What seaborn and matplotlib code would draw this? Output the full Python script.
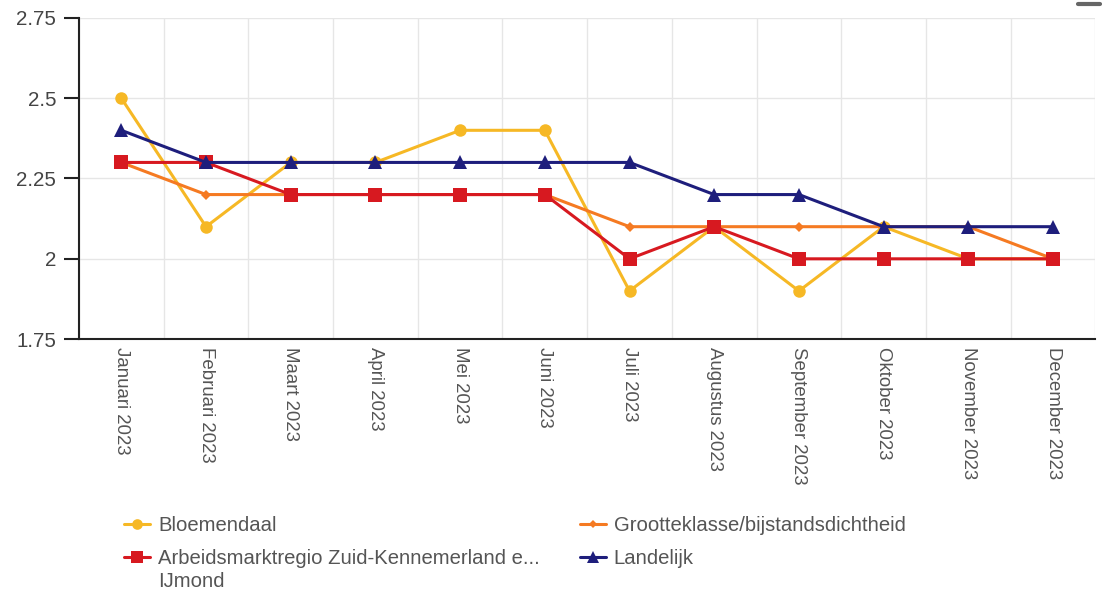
import matplotlib
matplotlib.use("Agg")
import pandas as pd
import numpy as np
import matplotlib.pyplot as plt
from matplotlib.ticker import FixedLocator, FuncFormatter
import seaborn as sns

# ─── Data ────────────────────────────────────────────────────────────────────
maanden = ["Januari 2023", "Februari 2023", "Maart 2023", "April 2023",
           "Mei 2023", "Juni 2023", "Juli 2023", "Augustus 2023",
           "September 2023", "Oktober 2023", "November 2023", "December 2023"]

bloemendaal   = [2.5, 2.1, 2.3, 2.3, 2.4, 2.4, 1.9, 2.1, 1.9, 2.1, 2.0, 2.0]
grootteklasse = [2.3, 2.2, 2.2, 2.2, 2.2, 2.2, 2.1, 2.1, 2.1, 2.1, 2.1, 2.0]
arbeidsmarkt  = [2.3, 2.3, 2.2, 2.2, 2.2, 2.2, 2.0, 2.1, 2.0, 2.0, 2.0, 2.0]
landelijk     = [2.4, 2.3, 2.3, 2.3, 2.3, 2.3, 2.3, 2.2, 2.2, 2.1, 2.1, 2.1]

y_ticks = [1.75, 2.0, 2.25, 2.5, 2.75]

reeksen = {
    "Bloemendaal": bloemendaal,
    "Grootteklasse/bijstandsdichtheid": grootteklasse,
    "Arbeidsmarktregio Zuid-Kennemerland e...\nIJmond": arbeidsmarkt,
    "Landelijk": landelijk,
}

# ─── Stijl ───────────────────────────────────────────────────────────────────
stijl = {
    "Bloemendaal":                      ("#F6B825", "o", 9),
    "Grootteklasse/bijstandsdichtheid": ("#F57A22", "D", 5),
    "Arbeidsmarktregio Zuid-Kennemerland e...\nIJmond": ("#D71920", "s", 9.5),
    "Landelijk":                        ("#1E1E7C", "^", 9.5),
}
# legenda-plek (kolom, rij) zoals in het origineel: rij voor rij
legenda_plek = {
    "Bloemendaal": (0, 0),
    "Grootteklasse/bijstandsdichtheid": (1, 0),
    "Arbeidsmarktregio Zuid-Kennemerland e...\nIJmond": (0, 1),
    "Landelijk": (1, 1),
}

sns.set_theme(style="white")
plt.rcParams["font.family"] = ["Liberation Sans", "DejaVu Sans"]

fig = plt.figure(figsize=(11.06, 5.95), dpi=100)
ax = fig.add_axes([0.0714, 0.430, 0.919, 0.540])

for z, (naam, waarden) in enumerate(reeksen.items()):
    kleur, marker, ms = stijl[naam]
    df = pd.DataFrame({"maand": maanden, "waarde": waarden})
    sns.lineplot(data=df, x="maand", y="waarde", ax=ax, color=kleur,
                 linewidth=2.2, marker=marker, markersize=ms,
                 markeredgewidth=0, sort=False, zorder=3 + z)

# ─── Assen ───────────────────────────────────────────────────────────────────
ax.set_xlim(-0.5, len(maanden) - 0.5)
ax.set_ylim(y_ticks[0], y_ticks[-1])
ax.yaxis.set_major_locator(FixedLocator(y_ticks))
ax.yaxis.set_major_formatter(FuncFormatter(lambda v, p: f"{v:g}"))
ax.xaxis.set_minor_locator(FixedLocator(np.arange(len(maanden) + 1) - 0.5))

ax.grid(axis="y", which="major", color="#e6e6e6", linewidth=1)
ax.grid(axis="x", which="minor", color="#e6e6e6", linewidth=1)
ax.grid(axis="x", which="major", visible=False)

ax.set_xlabel("")
ax.set_ylabel("")
ax.set_xticks(range(len(maanden)))
ax.set_xticklabels(maanden, rotation=270, fontsize=13.4, color="#555555",
                   va="top", ha="center")
ax.tick_params(axis="x", which="both", length=0, pad=6)
ax.tick_params(axis="y", length=11, width=1.5, color="#222222",
               labelsize=14.8, labelcolor="#444444", pad=5.5, left=True)

for kant in ["top", "right"]:
    ax.spines[kant].set_visible(False)
for kant in ["left", "bottom"]:
    ax.spines[kant].set_color("#222222")
    ax.spines[kant].set_linewidth(1.5)

if ax.get_legend() is not None:
    ax.get_legend().remove()

# ─── Legenda (handmatig, zodat de marker bij de eerste regel staat) ─────────
kol_x = [0.112, 0.524]
rij_y = [0.119, 0.064]
for naam in reeksen:
    kleur, marker, ms = stijl[naam]
    k, r = legenda_plek[naam]
    x0, y0 = kol_x[k], rij_y[r]
    fig.add_artist(plt.Line2D([x0, x0 + 0.024], [y0, y0],
                              transform=fig.transFigure, color=kleur,
                              linewidth=2.2))
    fig.add_artist(plt.Line2D([x0 + 0.012], [y0], transform=fig.transFigure,
                              color=kleur, marker=marker,
                              markersize=ms * 0.85, markeredgewidth=0))
    fig.text(x0 + 0.031, y0 + 0.0135, naam, fontsize=14.6, color="#555555",
             va="top", ha="left", linespacing=1.3,
             transform=fig.transFigure)

# menu-icoon rechtsboven
fig.add_artist(plt.Line2D([0.975, 0.995], [0.993, 0.993],
                          transform=fig.transFigure, color="#666666",
                          linewidth=3))

fig.savefig("out.png", dpi=100)
